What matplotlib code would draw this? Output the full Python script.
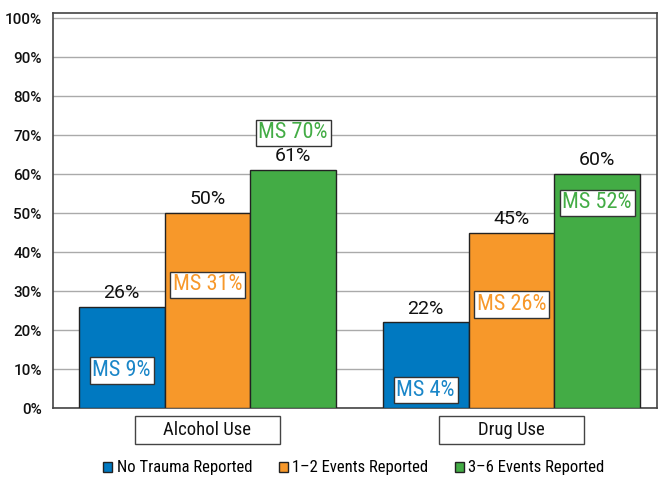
import numpy as np
import matplotlib.pyplot as plt
from matplotlib.patches import Patch, Rectangle
import matplotlib.transforms as mtransforms

categories = ["Alcohol Use", "Drug Use"]
series = ["No Trauma Reported", "1\u20132 Events Reported", "3\u20136 Events Reported"]
values = [[26, 22], [50, 45], [61, 60]]
ms_values = [[9, 4], [31, 26], [70, 52]]

colors = ["#0079c1", "#f7982a", "#43ac45"]
ms_colors = ["#1a86c8", "#f7982a", "#43ac45"]

plt.rcParams['font.family'] = ['Roboto Condensed', 'Roboto', 'DejaVu Sans']
wide = ['Roboto', 'DejaVu Sans']

fig = plt.figure(figsize=(6.59, 4.79), dpi=100)
ax = fig.add_axes([0.0804, 0.148, 0.9166, 0.825])

x = np.arange(len(categories))
w = 0.282
for i in range(3):
    pos = x + (i - 1) * w
    ax.bar(pos, values[i], w, color=colors[i], edgecolor="#222222", linewidth=1.0, zorder=3)
    for p, v, m in zip(pos, values[i], ms_values[i]):
        ax.text(p, v + 1.2, "%d%%" % v, ha="center", va="bottom", fontsize=14, color="#111111",
                family=wide, zorder=5)
        ax.text(p, m + 0.6, "MS %d%%" % m, ha="center", va="center", fontsize=16, color=ms_colors[i], zorder=5,
                bbox=dict(boxstyle="square,pad=0.12", facecolor="white", edgecolor="#333333", linewidth=1.0))

ax.set_xlim(-0.508, 1.479)
ax.set_ylim(0, 101.3)
ax.set_yticks(np.arange(0, 101, 10))
ax.set_yticklabels(["%d%%" % t for t in range(0, 101, 10)], fontsize=11, color="#111111",
                   fontweight="medium", family=wide)
ax.set_xticks([])
ax.tick_params(axis="y", length=0, pad=8)
ax.yaxis.grid(True, color="#aaaaaa", linewidth=1.0, zorder=0)
for s in ax.spines.values():
    s.set_color("#444444")
    s.set_linewidth(1.2)

# category boxes under the axis
trans = mtransforms.blended_transform_factory(ax.transData, ax.transAxes)
for c, name in zip(x, categories):
    ax.add_patch(Rectangle((c - 0.238, -0.091), 0.476, 0.071, transform=trans, clip_on=False,
                           facecolor="white", edgecolor="#444444", linewidth=1.0))
    ax.text(c, -0.0555, name, ha="center", va="center", fontsize=13.5, color="#111111",
            transform=trans, clip_on=False)

handles = [Patch(facecolor=colors[i], edgecolor="#222222", label=series[i]) for i in range(3)]
fig.legend(handles=handles, loc="center", bbox_to_anchor=(0.537, 0.023), ncol=3, frameon=False,
           fontsize=12, handlelength=0.55, handleheight=0.55, handletextpad=0.25, columnspacing=1.6)

fig.savefig("out.png", dpi=100)
